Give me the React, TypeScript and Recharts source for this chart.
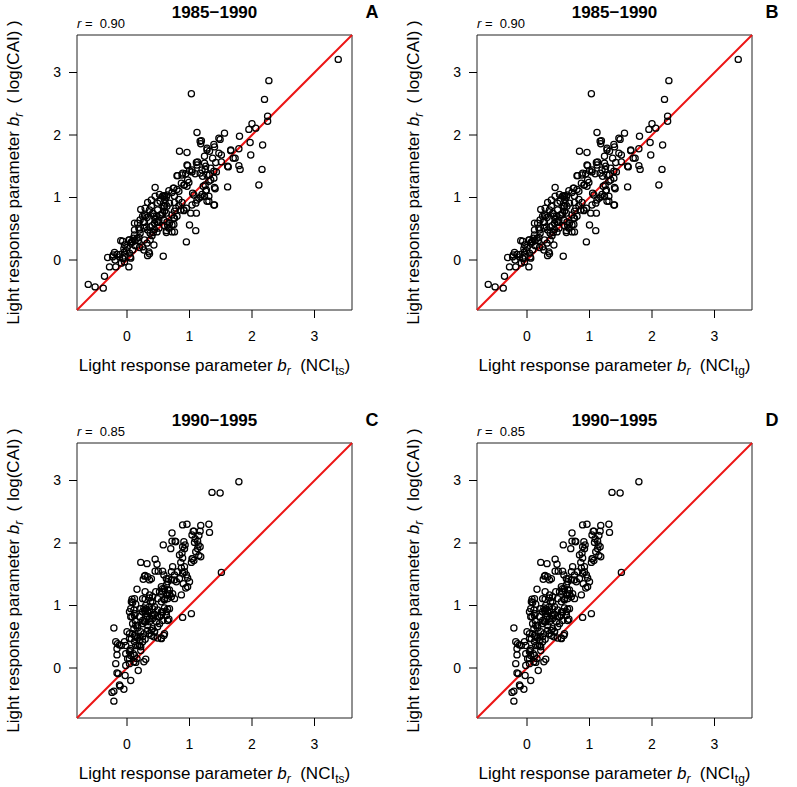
import React from 'react';
import { ScatterChart, Scatter, XAxis, YAxis, ReferenceLine, ReferenceArea, Label } from 'recharts';

const FONT = '"Liberation Sans", Arial, Helvetica, sans-serif';
const DOMAIN: [number, number] = [-0.8, 3.6];
const TICKS = [0, 1, 2, 3];
const PERIODS = ['1985\u22121990', '1990\u22121995'];
const R_VALUES = ['0.90', '0.85'];
const LETTERS = ['A', 'B', 'C', 'D'];
const NCI_SUBS = ['ts', 'tg'];

// [NCI-based b_r, log(CAI)-based b_r]
const PERIOD1: [number, number][] = [
  [3.38, 3.21], [2.27, 2.87], [1.03, 2.66], [2.2, 2.57], [2.25, 2.3], [2.25, 2.22], [2.0, 2.18], [2.06, 2.11], [1.95, 2.09], [1.8, 1.98],
  [1.97, 1.88], [2.17, 1.84], [1.98, 1.68], [2.16, 1.45], [2.11, 1.2], [1.79, 1.51], [1.81, 1.45], [1.79, 1.78], [1.7, 1.63], [1.73, 1.63],
  [1.66, 1.75], [1.61, 1.5], [1.61, 1.17], [1.56, 2.03], [1.47, 1.95], [1.49, 1.93], [1.4, 1.81], [1.47, 1.71], [1.51, 1.68], [1.37, 1.63],
  [1.42, 1.56], [1.51, 1.57], [1.43, 1.41], [1.4, 1.16], [1.4, 0.88], [1.32, 1.74], [1.28, 1.79], [1.24, 1.66], [1.24, 1.55], [1.25, 1.45],
  [1.32, 1.36], [1.34, 1.28], [1.21, 1.34], [1.25, 1.2], [1.27, 1.12], [1.24, 1.02], [1.28, 0.94], [1.17, 1.9], [1.18, 1.86], [1.12, 2.04],
  [1.11, 1.56], [1.17, 1.39], [1.09, 1.38], [0.97, 1.51], [1.0, 1.43], [1.04, 1.44], [0.97, 1.28], [0.84, 1.74], [0.96, 1.72], [0.81, 1.35],
  [0.89, 1.39], [0.87, 1.23], [0.92, 1.2], [0.74, 1.15], [0.76, 1.02], [0.83, 0.97], [0.95, 0.83], [0.91, 0.79], [1.05, 1.07], [1.12, 0.96],
  [1.18, 1.01], [1.11, 0.75], [1.0, 0.56], [1.1, 0.47], [0.95, 0.29], [0.76, 0.78], [0.75, 0.67], [0.67, 1.11], [0.72, 1.08], [0.63, 1.01],
  [0.6, 1.03], [0.68, 0.91], [0.6, 0.86], [0.63, 0.75], [0.59, 0.64], [0.65, 0.56], [0.63, 0.44], [0.76, 0.45], [0.45, 1.16], [0.49, 0.91],
  [0.53, 0.94], [0.41, 0.75], [0.49, 0.8], [0.47, 0.7], [0.53, 0.72], [0.57, 0.75], [0.5, 0.61], [0.44, 0.59], [0.37, 0.53], [0.33, 0.48],
  [0.37, 0.43], [0.28, 0.32], [0.43, 0.24], [0.36, 0.1], [0.33, 0.07], [0.58, 0.06], [0.29, 0.83], [0.3, 0.71], [0.22, 0.81], [0.25, 0.7],
  [0.21, 0.64], [0.17, 0.59], [0.12, 0.48], [0.2, 0.48], [0.12, 0.4], [0.18, 0.31], [0.25, 0.21], [0.09, 0.29], [0.04, 0.32], [-0.1, 0.31],
  [-0.04, 0.24], [0.0, 0.2], [-0.04, 0.13], [0.04, 0.11], [0.09, 0.16], [0.06, 0.03], [-0.07, 0.03], [-0.12, 0.05], [-0.2, 0.12], [-0.23, 0.05],
  [-0.19, 0.0], [-0.31, 0.04], [-0.28, -0.11], [-0.18, -0.11], [-0.09, -0.05], [0.03, -0.11], [-0.36, -0.26], [-0.62, -0.39], [-0.51, -0.43], [-0.38, -0.45],
  [0.39, 0.96], [0.45, 1.02], [0.52, 1.05], [0.57, 1.02], [0.33, 0.92], [0.06, 0.27], [0.13, 0.23], [0.16, 0.35],
  [-0.22, 0.08], [-0.16, 0.09], [-0.11, 0.09], [-0.06, 0.02], [-0.05, 0.18], [-0.01, 0.15], [0.05, 0.05], [-0.04, -0.03], [-0.07, 0.3], [0.03, 0.32],
  [0.07, 0.29], [0.1, 0.35], [0.13, 0.31], [0.19, 0.36], [0.21, 0.43], [0.2, 0.2], [0.27, 0.16], [0.12, 0.59], [0.19, 0.51], [0.27, 0.51],
  [0.26, 0.61], [0.31, 0.53], [0.32, 0.27], [0.35, 0.13], [0.37, 0.32], [0.4, 0.39], [0.28, 0.72], [0.32, 0.68], [0.28, 0.61], [0.39, 0.86],
  [0.36, 0.8], [0.42, 0.74], [0.43, 0.7], [0.45, 0.65], [0.48, 0.61], [0.51, 0.64], [0.4, 0.55], [0.44, 0.49], [0.48, 0.45], [0.51, 0.51],
  [0.42, 0.44], [0.56, 0.72], [0.6, 0.78], [0.58, 0.86], [0.61, 0.91], [0.64, 0.86], [0.6, 0.97], [0.58, 1.03], [0.64, 1.04], [0.64, 0.61],
  [0.68, 0.59], [0.72, 0.56], [0.67, 0.51], [0.6, 0.55], [0.63, 0.47], [0.72, 0.45], [0.75, 0.57], [0.76, 0.67], [0.72, 0.72], [0.8, 0.7],
  [0.76, 0.92], [0.78, 0.83], [0.83, 0.87], [0.86, 0.8], [0.88, 0.92], [0.75, 1.15], [0.8, 1.13], [0.83, 1.1], [0.91, 1.2], [0.96, 1.18],
  [0.99, 1.24], [0.8, 1.35], [0.88, 1.36], [0.94, 1.38], [0.96, 1.52], [1.04, 1.41], [0.91, 0.8], [1.02, 0.75], [1.04, 0.88], [1.1, 0.91],
  [1.07, 1.04], [1.15, 0.99], [1.2, 1.05], [1.26, 1.1], [1.22, 1.18], [1.31, 1.02], [1.39, 0.88], [1.31, 0.94], [1.12, 1.52], [1.2, 1.44],
  [1.26, 1.5], [1.28, 1.36], [1.34, 1.47], [1.39, 1.42], [1.31, 1.26], [1.39, 1.31], [1.19, 1.91], [1.39, 1.85], [1.28, 1.76], [1.66, 1.76],
  [1.13, 1.57], [1.62, 1.49], [1.41, 1.14],
];

const PERIOD2: [number, number][] = [
  [1.79, 2.98], [1.36, 2.81], [1.49, 2.8], [0.89, 2.29], [0.96, 2.3], [1.31, 2.3], [1.32, 2.17], [1.18, 2.28], [1.06, 2.19], [1.17, 2.19],
  [0.72, 2.16], [0.72, 2.03], [0.78, 2.02], [0.58, 1.97], [0.7, 1.91], [0.91, 2.02], [0.93, 1.97], [0.89, 1.94], [0.92, 1.91], [1.09, 2.07],
  [1.13, 2.03], [1.08, 2.01], [1.14, 1.97], [1.17, 1.94], [1.13, 1.91], [1.1, 1.86], [1.15, 1.8], [1.04, 2.13], [1.15, 2.12], [0.22, 1.69],
  [0.32, 1.67], [0.45, 1.74], [0.48, 1.66], [0.16, 1.26], [0.28, 1.47], [0.33, 1.46], [0.36, 1.41], [0.45, 1.55], [0.5, 1.55], [0.57, 1.55],
  [0.84, 1.81], [0.89, 1.76], [0.86, 1.69], [0.73, 1.62], [0.71, 1.54], [0.76, 1.49], [0.66, 1.43], [0.81, 1.54], [0.87, 1.6], [0.89, 1.52],
  [0.92, 1.54], [0.95, 1.49], [0.97, 1.44], [1.0, 1.38], [1.04, 1.75], [1.07, 1.72], [1.03, 1.69], [0.94, 1.28], [0.87, 1.17], [0.59, 1.49],
  [0.63, 1.43], [0.65, 1.38], [0.71, 1.41], [0.76, 1.41], [0.55, 1.3], [0.6, 1.27], [0.65, 1.25], [0.57, 1.22], [0.63, 1.17], [0.68, 1.19],
  [0.71, 1.14], [0.76, 1.11], [0.65, 1.11], [0.6, 1.09], [0.55, 1.06], [0.49, 1.11], [0.46, 1.22], [0.41, 1.14], [0.36, 1.12], [0.38, 1.06],
  [0.12, 1.11], [0.07, 1.06], [0.14, 1.02], [0.11, 0.93], [0.12, 0.84], [0.04, 0.9], [0.06, 0.82], [0.22, 0.95], [0.27, 0.96], [0.3, 0.94],
  [0.36, 0.98], [0.41, 0.95], [0.36, 0.9], [0.3, 0.87], [0.25, 0.9], [0.33, 0.82], [0.39, 0.84], [0.44, 0.86], [0.49, 0.82], [0.55, 0.9],
  [0.6, 0.96], [0.63, 0.9], [0.65, 0.94], [0.41, 0.79], [0.47, 0.74], [0.52, 0.71], [0.57, 0.76], [0.55, 0.84], [0.67, 0.78], [0.29, 1.1],
  [0.41, 0.63], [0.39, 0.6], [0.44, 0.58], [0.36, 0.55], [0.43, 0.5], [0.49, 0.48], [0.55, 0.48], [0.59, 0.52], [0.65, 0.76], [1.03, 0.87],
  [0.89, 0.81], [1.51, 1.53], [-0.21, 0.64], [-0.18, 0.42], [-0.15, 0.39], [-0.12, 0.37], [-0.09, 0.36], [-0.16, 0.31], [-0.16, 0.21], [-0.18, 0.07],
  [-0.16, -0.08], [-0.14, -0.09], [-0.12, -0.27], [-0.11, -0.29], [-0.05, -0.34], [-0.24, -0.39], [-0.21, -0.37], [-0.21, -0.53], [-0.03, -0.12], [0.06, -0.2],
  [-0.02, 0.04], [0.04, 0.07], [0.01, 0.15], [0.06, 0.2], [0.05, 0.28], [-0.02, 0.23], [0.11, 0.1], [0.14, 0.09], [0.16, 0.15], [0.18, -0.04],
  [0.12, 0.2], [0.27, 0.1], [0.3, 0.14], [0.09, 0.55], [0.12, 0.52], [0.04, 0.55], [0.07, 0.47], [0.12, 0.42], [0.17, 0.48], [0.14, 0.36],
  [-0.04, 0.42], [-0.02, 0.36], [0.04, 0.47], [0.0, 0.58], [0.14, 0.68], [0.17, 0.64], [0.11, 0.63], [0.22, 0.58], [0.27, 0.55], [0.21, 0.51],
  [0.25, 0.5], [0.2, 0.44], [0.22, 0.34], [0.29, 0.46], [0.2, 0.36], [0.22, 0.28], [0.28, 0.74], [0.33, 0.68], [0.36, 0.74], [0.25, 0.71],
  [1.07, 2.19], [1.18, 1.78], [0.77, 2.03], [0.88, 1.84], [1.05, 1.75], [0.29, 1.48], [0.39, 1.43], [0.26, 1.42], [0.08, 1.1], [0.09, 1.05],
  [0.06, 0.95], [0.13, 0.87], [0.08, 0.82], [0.25, 1.11], [0.29, 1.22], [0.36, 1.17], [0.41, 1.06], [0.3, 1.0], [0.28, 0.92], [0.33, 0.9],
  [0.44, 0.98], [0.49, 0.93], [0.52, 1.22], [0.57, 1.27], [0.63, 1.33], [0.68, 1.25], [0.65, 1.17], [0.73, 1.19], [0.6, 1.11], [0.79, 1.38],
  [0.92, 1.62], [0.84, 1.43], [0.9, 1.35], [0.97, 1.3], [0.04, 0.26], [0.06, 0.31], [0.1, 0.23], [0.04, 0.15], [0.14, 0.5], [0.25, 0.42],
  [0.17, 0.36], [0.33, 0.6], [0.39, 0.52], [0.44, 0.58], [0.55, 0.47], [0.6, 0.55], [0.09, 0.71], [0.13, 0.76], [0.17, 0.68], [0.2, 0.82],
  [0.25, 0.76], [0.3, 0.74], [0.36, 0.79], [0.41, 0.84], [0.52, 0.82], [0.57, 0.9], [0.63, 0.84], [0.68, 0.95], [0.49, 0.66],
];

const PANELS = [
  { data: PERIOD1, title: PERIODS[0], r: R_VALUES[0], letter: LETTERS[0], sub: NCI_SUBS[0], left: 0, top: 0 },
  { data: PERIOD1, title: PERIODS[0], r: R_VALUES[0], letter: LETTERS[1], sub: NCI_SUBS[1], left: 400, top: 0 },
  { data: PERIOD2, title: PERIODS[1], r: R_VALUES[1], letter: LETTERS[2], sub: NCI_SUBS[0], left: 0, top: 408 },
  { data: PERIOD2, title: PERIODS[1], r: R_VALUES[1], letter: LETTERS[3], sub: NCI_SUBS[1], left: 400, top: 408 },
];

const ringShape = (props: any) => (
  <circle cx={props.cx} cy={props.cy} r={3.1} fill="none" stroke="#000" strokeWidth={1.25} />
);

const tickStyle = { fill: '#000', fontSize: 14, fontFamily: FONT };

const Panel = ({ data, title, r, letter, sub }: any) => {
  const pts = data.map(([x, y]: [number, number]) => ({ x, y }));
  return (
    <ScatterChart width={400} height={380} margin={{ top: 35, right: 48, bottom: 0, left: 0 }}>
      <XAxis
        type="number"
        dataKey="x"
        domain={DOMAIN}
        ticks={TICKS}
        interval={0}
        allowDataOverflow
        height={70}
        axisLine={false}
        tickSize={8}
        tickMargin={13}
        tickLine={{ stroke: '#000' }}
        tick={tickStyle}
      >
        <Label
          content={() => (
            <g fontFamily={FONT} fill="#000">
              <text x={214.5} y={371} textAnchor="middle" fontSize={17}>
                {'Light response parameter '}
                <tspan fontStyle="italic">b</tspan>
                <tspan fontStyle="italic" fontSize={12} dy={4}>r</tspan>
                <tspan dy={-4}>{'\u00a0\u00a0(NCI'}</tspan>
                <tspan fontSize={12} dy={4}>{sub}</tspan>
                <tspan dy={-4}>)</tspan>
              </text>
              <text x={214.5} y={18} textAnchor="middle" fontSize={17} fontWeight="bold">{title}</text>
              <text x={372} y={18} textAnchor="middle" fontSize={18} fontWeight="bold">{letter}</text>
              <text x={77} y={28} fontSize={13}>
                <tspan fontStyle="italic">r</tspan>
                {'\u00a0=\u00a0\u00a0' + r}
              </text>
            </g>
          )}
        />
      </XAxis>
      <YAxis
        type="number"
        dataKey="y"
        domain={DOMAIN}
        ticks={TICKS}
        interval={0}
        allowDataOverflow
        width={77}
        axisLine={false}
        tickSize={8}
        tickMargin={8}
        tickLine={{ stroke: '#000' }}
        tick={tickStyle}
      >
        <Label
          content={() => (
            <text
              transform="translate(19,172.5) rotate(-90)"
              textAnchor="middle"
              fontSize={17}
              fontFamily={FONT}
              fill="#000"
            >
              {'Light response parameter '}
              <tspan fontStyle="italic">b</tspan>
              <tspan fontStyle="italic" fontSize={12} dy={4}>r</tspan>
              <tspan dy={-4}>{'\u00a0\u00a0(\u00a0log(CAI)\u00a0)'}</tspan>
            </text>
          )}
        />
      </YAxis>
      <ReferenceArea x1={DOMAIN[0]} x2={DOMAIN[1]} y1={DOMAIN[0]} y2={DOMAIN[1]} fill="none" stroke="#222" strokeWidth={1} ifOverflow="visible" />
      <ReferenceLine
        segment={[{ x: DOMAIN[0], y: DOMAIN[0] }, { x: DOMAIN[1], y: DOMAIN[1] }]}
        stroke="#ec1515"
        strokeWidth={2}
        ifOverflow="visible"
      />
      <Scatter data={pts} isAnimationActive={false} shape={ringShape} />
    </ScatterChart>
  );
};

export default function App() {
  return (
    <div style={{ position: 'absolute', left: 0, top: 0, width: 797, height: 787, background: '#fff', overflow: 'hidden' }}>
      {PANELS.map((p) => (
        <div key={p.letter} style={{ position: 'absolute', left: p.left, top: p.top }}>
          <Panel data={p.data} title={p.title} r={p.r} letter={p.letter} sub={p.sub} />
        </div>
      ))}
    </div>
  );
}
